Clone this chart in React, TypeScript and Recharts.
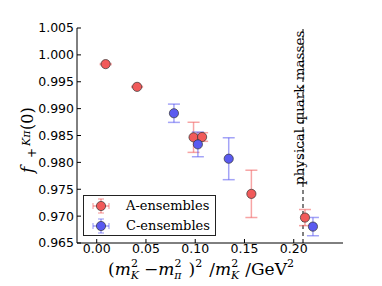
import React from 'react';
import {
  ScatterChart,
  Scatter,
  XAxis,
  YAxis,
  ErrorBar,
  ReferenceLine,
  Customized,
} from 'recharts';

// A-ensembles
const aX = [0.0091, 0.041, 0.0983, 0.107, 0.157, 0.2114];
const aY = [0.99828, 0.99405, 0.98466, 0.98472, 0.97414, 0.96973];
const aErr = [0.0001, 0.0001, 0.0028, 0.0008, 0.0044, 0.0015];

// C-ensembles
const cX = [0.0784, 0.1027, 0.134, 0.2195];
const cY = [0.98914, 0.98335, 0.98068, 0.96805];
const cErr = [0.0017, 0.0023, 0.0039, 0.0017];

const xTicks = [0, 0.05, 0.1, 0.15, 0.2];
const yTicks = [0.965, 0.97, 0.975, 0.98, 0.985, 0.99, 0.995, 1.0, 1.005];
const physicalX = 0.2094;

const RED = '#f15a5a';
const BLUE = '#5a5af0';

const aData = aX.map((x, i) => ({ x, y: aY[i], err: aErr[i] }));
const cData = cX.map((x, i) => ({ x, y: cY[i], err: cErr[i] }));

const tickFont = { fontFamily: 'DejaVu Sans', fontSize: 12.5, fill: '#000' };
const serif = 'DejaVu Serif';

function dot(color: string) {
  return (props: any) => (
    <circle cx={props.cx} cy={props.cy} r={4.6} fill={color} stroke="#333" strokeWidth={0.7} />
  );
}

function LegendBox() {
  const row = (color: string, label: string) => (
    <div style={{ display: 'flex', alignItems: 'center', height: 20 }}>
      <svg width={36} height={20}>
        <line x1={9} x2={25} y1={10} y2={10} stroke={color} strokeOpacity={0.55} strokeWidth={1.5} />
        <line x1={17} x2={17} y1={3} y2={17} stroke={color} strokeOpacity={0.55} strokeWidth={1.5} />
        <line x1={9} x2={9} y1={7} y2={13} stroke={color} strokeOpacity={0.55} strokeWidth={1.2} />
        <line x1={25} x2={25} y1={7} y2={13} stroke={color} strokeOpacity={0.55} strokeWidth={1.2} />
        <line x1={14} x2={20} y1={3} y2={3} stroke={color} strokeOpacity={0.55} strokeWidth={1.2} />
        <line x1={14} x2={20} y1={17} y2={17} stroke={color} strokeOpacity={0.55} strokeWidth={1.2} />
        <circle cx={17} cy={10} r={4.6} fill={color} stroke="#333" strokeWidth={0.7} />
      </svg>
      <span style={{ fontFamily: serif, fontSize: 13, color: '#000', marginLeft: 6, lineHeight: '20px' }}>
        {label}
      </span>
    </div>
  );
  return (
    <div
      style={{
        position: 'absolute',
        left: 83,
        top: 195,
        width: 131,
        height: 39,
        border: '1px solid #222',
        background: '#fff',
      }}
    >
      {row(RED, 'A-ensembles')}
      {row(BLUE, 'C-ensembles')}
    </div>
  );
}

function AxisTitles() {
  return (
    <g fontFamily={serif} fill="#000">
      <text x={108} y={275} fontSize={17}>
        <tspan>(</tspan>
        <tspan fontStyle="italic">m</tspan>
        <tspan fontSize={11} dy={4} fontStyle="italic">K</tspan>
        <tspan fontSize={11} dx={-8} dy={-12}>2</tspan>
        <tspan dy={8} dx={6}>−</tspan>
        <tspan fontStyle="italic">m</tspan>
        <tspan fontSize={11} dy={4} fontStyle="italic">π</tspan>
        <tspan fontSize={11} dx={-7} dy={-12}>2</tspan>
        <tspan dy={8} dx={7}>)</tspan>
        <tspan fontSize={11} dy={-8}>2</tspan>
        <tspan dy={8} dx={7}>/</tspan>
        <tspan fontStyle="italic">m</tspan>
        <tspan fontSize={11} dy={4} fontStyle="italic">K</tspan>
        <tspan fontSize={11} dx={-8} dy={-12}>2</tspan>
        <tspan dy={8} dx={7}>/GeV</tspan>
        <tspan fontSize={11} dy={-8}>2</tspan>
      </text>
      <g transform="translate(33,173) rotate(-90)">
        <text x={0} y={0} fontSize={17} fontStyle="italic">f</text>
        <text x={27} y={-3} fontSize={11} fontStyle="italic">Kπ</text>
        <text x={15} y={3} fontSize={12}>+</text>
        <text x={43} y={0} fontSize={16}>(0)</text>
      </g>
      <text transform="translate(304,185) rotate(-90)" fontSize={13.5}>
        physical quark masses
      </text>
    </g>
  );
}

export default function App() {
  return (
    <div style={{ position: 'absolute', left: 0, top: 0, width: 382, height: 286, background: '#fff' }}>
      <ScatterChart width={382} height={286} margin={{ top: 28, right: 39, bottom: 0, left: 0 }}>
        <XAxis
          xAxisId="b"
          type="number"
          dataKey="x"
          domain={[-0.02, 0.25]}
          ticks={xTicks}
          tickFormatter={(v: number) => v.toFixed(2)}
          allowDataOverflow
          height={43}
          tickSize={-4}
          tickMargin={5}
          tick={tickFont}
          stroke="#000"
        />
        <XAxis
          xAxisId="t"
          orientation="top"
          type="number"
          dataKey="x"
          domain={[-0.02, 0.25]}
          ticks={xTicks}
          allowDataOverflow
          height={0}
          tickSize={-4}
          tick={false}
          stroke="#000"
        />
        <YAxis
          yAxisId="l"
          type="number"
          dataKey="y"
          domain={[0.965, 1.005]}
          ticks={yTicks}
          tickFormatter={(v: number) => v.toFixed(3)}
          allowDataOverflow
          width={77}
          tickSize={-4}
          tickMargin={7}
          tick={tickFont}
          stroke="#000"
        />
        <YAxis
          yAxisId="r"
          orientation="right"
          type="number"
          dataKey="y"
          domain={[0.965, 1.005]}
          ticks={yTicks}
          allowDataOverflow
          width={0}
          tickSize={-4}
          tick={false}
          stroke="#000"
        />
        <ReferenceLine
          x={physicalX}
          xAxisId="b"
          yAxisId="l"
          stroke="#000"
          strokeWidth={1}
          strokeDasharray="4 3"
        />
        <Scatter
          name="A-ensembles"
          data={aData}
          xAxisId="b"
          yAxisId="l"
          fill={RED}
          shape={dot(RED)}
          isAnimationActive={false}
        >
          <ErrorBar dataKey="err" direction="y" width={6} stroke={RED} strokeOpacity={0.55} strokeWidth={1.5} />
        </Scatter>
        <Scatter
          name="C-ensembles"
          data={cData}
          xAxisId="b"
          yAxisId="l"
          fill={BLUE}
          shape={dot(BLUE)}
          isAnimationActive={false}
        >
          <ErrorBar dataKey="err" direction="y" width={6} stroke={BLUE} strokeOpacity={0.55} strokeWidth={1.5} />
        </Scatter>
        <Customized component={AxisTitles} />
      </ScatterChart>
      <LegendBox />
    </div>
  );
}
